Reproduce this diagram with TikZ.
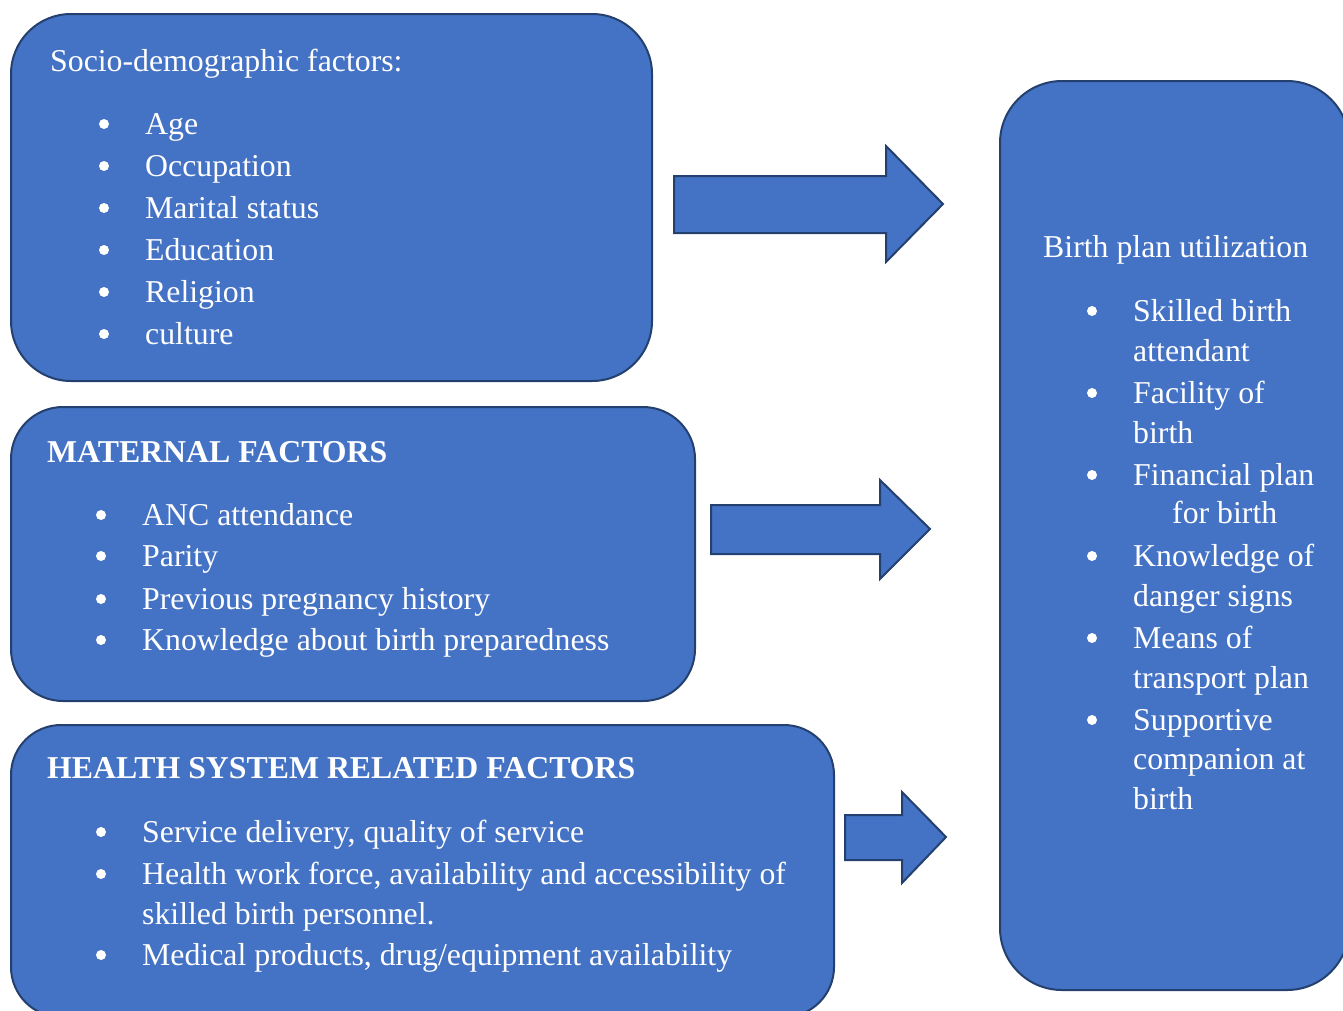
\documentclass[tikz,border=0pt]{standalone}
\usepackage{fontspec}
\setmainfont{Liberation Serif}
\definecolor{boxblue}{HTML}{4472C4}
\definecolor{edgeblue}{HTML}{24406E}
\newcommand{\mysize}{\fontsize{31.8}{38}\selectfont}
\begin{document}
\begin{tikzpicture}[x=1pt,y=-1pt,
  panel/.style={draw=edgeblue, fill=boxblue, line width=2pt, anchor=north west, inner sep=0pt},
  blockarrow/.style={draw=edgeblue, fill=boxblue, line width=2pt, line join=miter},
  txt/.style={font=\mysize, text=white, anchor=base west, inner sep=0pt},
  bul/.style={circle, fill=white, inner sep=0pt, minimum size=10pt}]
\useasboundingbox (0,0) rectangle (1343,1010);
\clip (0,0) rectangle (1343,1010);
% boxes
\node[panel, rounded corners=60pt, minimum width=641pt, minimum height=367pt] (b1) at (10,13) {};
\node[panel, rounded corners=52pt, minimum width=684pt, minimum height=294pt] (b2) at (10,406) {};
\node[panel, rounded corners=50pt, minimum width=823pt, minimum height=292pt] (b3) at (10,724) {};
\node[panel, rounded corners=62pt, minimum width=349pt, minimum height=909pt] (b4) at (999,80) {};
% arrows
\draw[blockarrow] (674,176) -- (886,176) -- (886,146) -- (943,204) -- (886,262) -- (886,233) -- (674,233) -- cycle;
\draw[blockarrow] (711,505) -- (880,505) -- (880,480) -- (930,529) -- (880,579) -- (880,554) -- (711,554) -- cycle;
\draw[blockarrow] (845,815) -- (902,815) -- (902,792) -- (946,837) -- (902,883) -- (902,860) -- (845,860) -- cycle;
% box 1
\node[txt] (t1) at (50,71) {Socio-demographic factors:};
\foreach \y/\s [count=\i] in {134/Age,176/Occupation,218/Marital status,260/Education,302/Religion,344/culture}{
  \node[bul] (p1\i) at (104,\y-10) {};
  \node[txt] (a1\i) at (145,\y) {\s};
}
% box 2
\node[txt] (t2) at (47,462) {\bfseries MATERNAL FACTORS};
\foreach \y/\s [count=\i] in {525/ANC attendance,566/Parity,609/Previous pregnancy history,650/Knowledge about birth preparedness}{
  \node[bul] (p2\i) at (101,\y-10) {};
  \node[txt] (a2\i) at (142,\y) {\s};
}
% box 3
\node[txt] (t3) at (47,778) {\bfseries HEALTH SYSTEM RELATED FACTORS};
\node[bul] (p31) at (101,832) {};
\node[txt] (a31) at (142,842) {Service delivery, quality of service};
\node[bul] (p32) at (101,874) {};
\node[txt] (a32) at (142,884) {Health work force, availability and accessibility of};
\node[txt] (a33) at (142,924) {skilled birth personnel.};
\node[bul] (p34) at (101,955) {};
\node[txt] (a34) at (142,965) {Medical products, drug/equipment availability};
% right box
\node[txt] (t4) at (1043,257) {Birth plan utilization};
\foreach \y in {321,403,485,566,648,730}{
  \node[bul] at (1092,\y-10) {};
}
\node[txt] (r1) at (1133,321) {Skilled birth};
\node[txt] (r2) at (1133,361) {attendant};
\node[txt] (r3) at (1133,403) {Facility of};
\node[txt] (r4) at (1133,443) {birth};
\node[txt] (r5) at (1133,485) {Financial plan};
\node[txt] (r6) at (1172,523) {for birth};
\node[txt] (r7) at (1133,566) {Knowledge of};
\node[txt] (r8) at (1133,606) {danger signs};
\node[txt] (r9) at (1133,648) {Means of};
\node[txt] (r10) at (1133,688) {transport plan};
\node[txt] (r11) at (1133,730) {Supportive};
\node[txt] (r12) at (1133,769) {companion at};
\node[txt] (r13) at (1133,809) {birth};
\end{tikzpicture}
\end{document}
